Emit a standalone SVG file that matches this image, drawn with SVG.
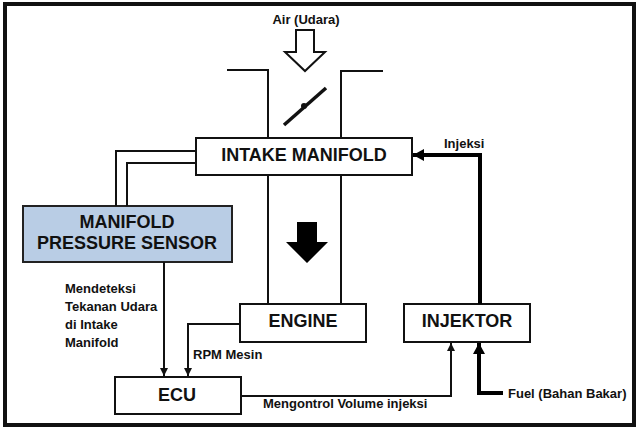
<svg xmlns="http://www.w3.org/2000/svg" width="640" height="432" viewBox="0 0 640 432">
<style>
.box{fill:#fff;stroke:#111;stroke-width:2}
.big{font-family:"Liberation Sans",Arial,sans-serif;font-weight:bold;font-size:18px;fill:#111;text-anchor:middle}
.lbl{font-family:"Liberation Sans",Arial,sans-serif;font-weight:bold;font-size:13px;fill:#111}
.ln{fill:none;stroke:#111;stroke-width:2}
.thk{fill:none;stroke:#000;stroke-width:4}
</style>
<defs>
<marker id="arr" markerUnits="userSpaceOnUse" markerWidth="8" markerHeight="8" refX="8" refY="4" orient="auto"><path d="M0,0 L8,4 L0,8 z" fill="#111"/></marker>
<marker id="arrBig" markerUnits="userSpaceOnUse" markerWidth="11" markerHeight="12" refX="11" refY="6" orient="auto"><path d="M0,0 L11,6 L0,12 z" fill="#000"/></marker>
</defs>
<rect x="0" y="0" width="640" height="432" fill="#fff"/>
<rect x="5" y="4" width="629" height="421" fill="none" stroke="#111" stroke-width="4"/>

<g id="throttle">
<text class="lbl" x="306" y="24" text-anchor="middle">Air (Udara)</text>
<polygon points="296,30 314,30 314,52 325,52 305,71 285,52 296,52" fill="#fff" stroke="#111" stroke-width="2"/>
<polyline class="ln" points="227,70 268,70 268,138"/>
<polyline class="ln" points="383,71 341,71 341,138"/>
<line x1="284" y1="125" x2="326" y2="88" stroke="#111" stroke-width="3.5"/>
<circle cx="304" cy="106" r="3" fill="#111"/>
</g>

<g id="intake-manifold">
<rect class="box" x="196" y="138" width="216" height="37"/>
<text class="big" x="304" y="161">INTAKE MANIFOLD</text>
</g>

<g id="pipe">
<line class="ln" x1="268" y1="175" x2="268" y2="304"/>
<line class="ln" x1="341" y1="175" x2="341" y2="304"/>
<polygon points="297,222 317,222 317,242 328,242 307,263 286,242 297,242" fill="#000"/>
</g>

<g id="manifold-pressure-sensor">
<rect x="23" y="206" width="209" height="56" fill="#B9CDE5" stroke="#222" stroke-width="2"/>
<text class="big" x="127" y="228">MANIFOLD</text>
<text class="big" x="127" y="249">PRESSURE SENSOR</text>
</g>

<g id="engine">
<rect class="box" x="240" y="304" width="126" height="38"/>
<text class="big" x="303" y="327">ENGINE</text>
</g>

<g id="injektor">
<rect class="box" x="404" y="304" width="126" height="38"/>
<text class="big" x="467" y="327">INJEKTOR</text>
</g>

<g id="ecu">
<rect class="box" x="115" y="377" width="126" height="37"/>
<text class="big" x="177" y="401">ECU</text>
</g>

<g id="connectors">
<polyline class="ln" points="196,151 116,151 116,206"/>
<polyline class="ln" points="196,163 127,163 127,206"/>
<line class="ln" x1="164" y1="262" x2="164" y2="376" marker-end="url(#arr)"/>
<polyline class="ln" points="240,324 188,324 188,376" marker-end="url(#arr)"/>
<polyline class="ln" points="241,396 451,396 451,343" marker-end="url(#arr)"/>
<polyline class="thk" points="503,393 479,393 479,343" marker-end="url(#arrBig)"/>
<polyline class="thk" points="480,304 480,155 413,155" marker-end="url(#arrBig)"/>
</g>

<g id="labels">
<text class="lbl" x="444" y="148">Injeksi</text>
<text class="lbl" x="65" y="293">Mendeteksi</text>
<text class="lbl" x="65" y="311">Tekanan Udara</text>
<text class="lbl" x="65" y="329">di Intake</text>
<text class="lbl" x="65" y="347">Manifold</text>
<text class="lbl" x="193" y="359">RPM Mesin</text>
<text class="lbl" x="263" y="408">Mengontrol Volume injeksi</text>
<text class="lbl" x="508" y="398">Fuel (Bahan Bakar)</text>
</g>
</svg>
